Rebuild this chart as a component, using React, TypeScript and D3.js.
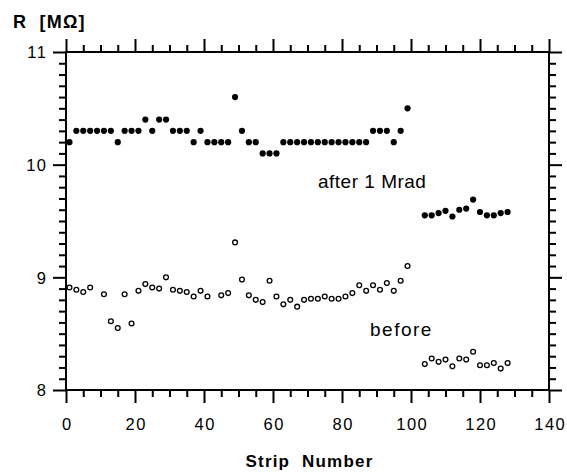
import React, { useEffect, useRef } from 'react';
import * as d3 from 'd3';

const W = 567;
const H = 472;

// Strip numbers and resistance values (MΩ)
const afterStrips = [1, 3, 5, 7, 9, 11, 13, 15, 17, 19, 21, 23, 25, 27, 29, 31, 33, 35, 37, 39, 41, 43, 45, 47, 49, 51, 53, 55, 57, 59, 61, 63, 65, 67, 69, 71, 73, 75, 77, 79, 81, 83, 85, 87, 89, 91, 93, 95, 97, 99, 104, 106, 108, 110, 112, 114, 116, 118, 120, 122, 124, 126, 128];
const afterValues = [10.2, 10.3, 10.3, 10.3, 10.3, 10.3, 10.3, 10.2, 10.3, 10.3, 10.3, 10.4, 10.3, 10.4, 10.4, 10.3, 10.3, 10.3, 10.2, 10.3, 10.2, 10.2, 10.2, 10.2, 10.6, 10.3, 10.2, 10.2, 10.1, 10.1, 10.1, 10.2, 10.2, 10.2, 10.2, 10.2, 10.2, 10.2, 10.2, 10.2, 10.2, 10.2, 10.2, 10.2, 10.3, 10.3, 10.3, 10.2, 10.3, 10.5, 9.55, 9.55, 9.57, 9.59, 9.54, 9.6, 9.61, 9.69, 9.58, 9.55, 9.55, 9.57, 9.58];

const beforeStrips = [1, 3, 5, 7, 11, 13, 15, 17, 19, 21, 23, 25, 27, 29, 31, 33, 35, 37, 39, 41, 45, 47, 49, 51, 53, 55, 57, 59, 61, 63, 65, 67, 69, 71, 73, 75, 77, 79, 81, 83, 85, 87, 89, 91, 93, 95, 97, 99, 104, 106, 108, 110, 112, 114, 116, 118, 120, 122, 124, 126, 128];
const beforeValues = [8.91, 8.89, 8.87, 8.91, 8.85, 8.61, 8.55, 8.85, 8.59, 8.88, 8.94, 8.91, 8.9, 9.0, 8.89, 8.88, 8.87, 8.83, 8.88, 8.83, 8.84, 8.86, 9.31, 8.98, 8.84, 8.8, 8.78, 8.97, 8.83, 8.76, 8.8, 8.74, 8.8, 8.81, 8.81, 8.83, 8.81, 8.81, 8.83, 8.86, 8.93, 8.88, 8.93, 8.89, 8.95, 8.88, 8.97, 9.1, 8.23, 8.28, 8.25, 8.27, 8.21, 8.28, 8.27, 8.34, 8.22, 8.22, 8.24, 8.19, 8.24];

const xMajorTicks = [0, 20, 40, 60, 80, 100, 120, 140];
const xMinorTicks = [5, 10, 15, 25, 30, 35, 45, 50, 55, 65, 70, 75, 85, 90, 95, 105, 110, 115, 125, 130, 135];
const yMajorTicks = [8, 9, 10, 11];
const yMinorTicks = [8.1, 8.2, 8.3, 8.4, 8.5, 8.6, 8.7, 8.8, 8.9, 9.1, 9.2, 9.3, 9.4, 9.5, 9.6, 9.7, 9.8, 9.9, 10.1, 10.2, 10.3, 10.4, 10.5, 10.6, 10.7, 10.8, 10.9];

const FONT = "'Liberation Sans', Arial, Helvetica, sans-serif";
const LS = 1.5;

export default function App() {
  const ref = useRef<SVGSVGElement>(null);

  useEffect(() => {
    const svg = d3.select(ref.current);
    svg.selectAll('*').remove();

    const x = d3.scaleLinear().domain([0, 140]).range([66, 549]);
    const y = d3.scaleLinear().domain([8, 11]).range([390, 52]);
    const x0 = x(0), x1 = x(140), y0 = y(8), y1 = y(11);

    const styleAxis = (g: any) => {
      g.select('.domain').remove();
      g.selectAll('line').attr('stroke', '#000').attr('stroke-width', 2);
    };
    const noFmt = () => '';

    // minor ticks
    svg.append('g').attr('transform', `translate(0,${y0})`)
      .call(d3.axisBottom(x).tickValues(xMinorTicks).tickSize(7).tickFormat(noFmt as any)).call(styleAxis);
    svg.append('g').attr('transform', `translate(0,${y1})`)
      .call(d3.axisTop(x).tickValues(xMinorTicks).tickSize(7).tickFormat(noFmt as any)).call(styleAxis);
    svg.append('g').attr('transform', `translate(${x0},0)`)
      .call(d3.axisLeft(y).tickValues(yMinorTicks).tickSize(7).tickFormat(noFmt as any)).call(styleAxis);
    svg.append('g').attr('transform', `translate(${x1},0)`)
      .call(d3.axisRight(y).tickValues(yMinorTicks).tickSize(7).tickFormat(noFmt as any)).call(styleAxis);

    // major ticks
    const bottom = svg.append('g').attr('transform', `translate(0,${y0})`)
      .call(d3.axisBottom(x).tickValues(xMajorTicks).tickSize(13).tickFormat(d3.format('d') as any)).call(styleAxis);
    bottom.selectAll('text')
      .attr('y', 40).attr('dy', 0).attr('dx', LS / 2)
      .attr('font-family', FONT).attr('font-size', 16.5).attr('letter-spacing', LS)
      .attr('fill', '#000');
    svg.append('g').attr('transform', `translate(0,${y1})`)
      .call(d3.axisTop(x).tickValues(xMajorTicks).tickSize(13).tickFormat(noFmt as any)).call(styleAxis);
    const left = svg.append('g').attr('transform', `translate(${x0},0)`)
      .call(d3.axisLeft(y).tickValues(yMajorTicks).tickSize(13).tickFormat(d3.format('d') as any)).call(styleAxis);
    left.selectAll('text')
      .attr('x', -20).attr('dx', LS).attr('dy', '0.36em')
      .attr('font-family', FONT).attr('font-size', 16.5).attr('letter-spacing', LS)
      .attr('fill', '#000');
    svg.append('g').attr('transform', `translate(${x1},0)`)
      .call(d3.axisRight(y).tickValues(yMajorTicks).tickSize(13).tickFormat(noFmt as any)).call(styleAxis);

    // frame
    svg.append('rect')
      .attr('x', x0).attr('y', y1).attr('width', x1 - x0).attr('height', y0 - y1)
      .attr('fill', 'none').attr('stroke', '#000').attr('stroke-width', 2);

    // before (open)
    svg.append('g').selectAll('circle')
      .data(beforeStrips.map((s, i) => [s, beforeValues[i]]))
      .join('circle')
      .attr('cx', (d) => x(d[0])).attr('cy', (d) => y(d[1])).attr('r', 2.4)
      .attr('fill', '#fff').attr('stroke', '#000').attr('stroke-width', 1.3);

    // after (filled)
    svg.append('g').selectAll('circle')
      .data(afterStrips.map((s, i) => [s, afterValues[i]]))
      .join('circle')
      .attr('cx', (d) => x(d[0])).attr('cy', (d) => y(d[1])).attr('r', 3.1)
      .attr('fill', '#000');

    // annotations
    svg.append('text').attr('x', 318).attr('y', 188)
      .attr('font-family', FONT).attr('font-size', 19).attr('letter-spacing', 0.5)
      .text('after 1 Mrad');
    svg.append('text').attr('x', 370).attr('y', 336)
      .attr('font-family', FONT).attr('font-size', 19).attr('letter-spacing', 1.5)
      .text('before');

    // axis titles
    svg.append('text').attr('x', 13).attr('y', 28)
      .attr('font-family', FONT).attr('font-size', 18).attr('font-weight', 'bold').attr('letter-spacing', 1.2)
      .attr('xml:space', 'preserve')
      .text('R  [MΩ]');
    svg.append('text').attr('x', (x0 + x1) / 2 + 2).attr('y', 467).attr('text-anchor', 'middle')
      .attr('font-family', FONT).attr('font-size', 17).attr('font-weight', 'bold').attr('letter-spacing', 1.2)
      .attr('xml:space', 'preserve')
      .text('Strip  Number');
  }, []);

  return (
    <div style={{ position: 'absolute', left: 0, top: 0 }}>
      <svg ref={ref} width={W} height={H} style={{ display: 'block', background: '#fff' }} />
    </div>
  );
}
